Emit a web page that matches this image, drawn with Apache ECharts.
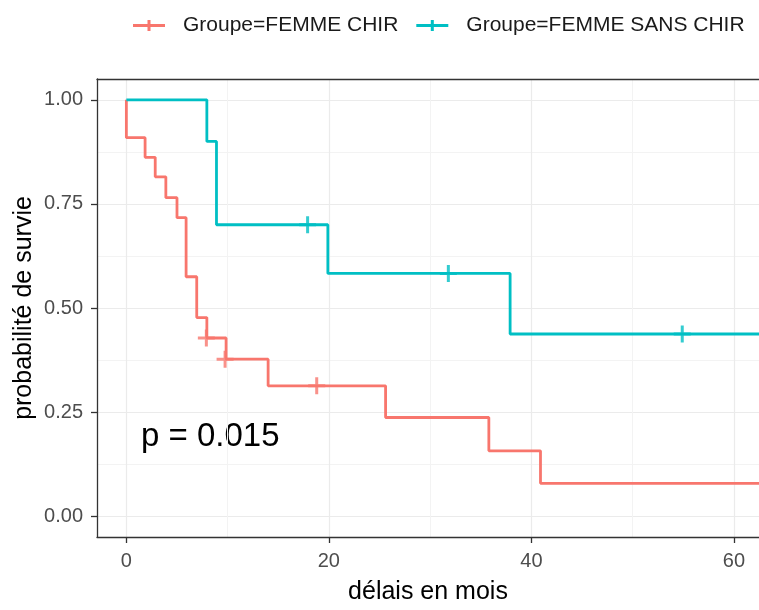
<!DOCTYPE html>
<html>
<head>
    <meta charset="utf-8">
    <title>Survie FEMME CHIR / SANS CHIR</title>
    <script src="https://cdn.jsdelivr.net/npm/echarts@6/dist/echarts.min.js"></script>
    <style>
        * {
            margin: 0;
            padding: 0
        }

        html, body {
            width: 100%;
            height: 100%;
            background: #fff;
        }

        #main {
            width: 759px;
            height: 610px;
        }
    </style>
</head>
<body>
<div id="main"></div>

<script type="text/javascript">
    /*--------------------données------------------------------------------------*/
    var groupNames = ['Groupe=FEMME CHIR', 'Groupe=FEMME SANS CHIR'];

    // FEMME CHIR : temps des paliers et survie
    var chirTimes = [0, 0, 1.85, 2.85, 3.9, 5.0, 5.9, 6.95, 7.95, 9.85, 14.0, 25.6, 35.8, 40.9, 64];
    var chirSurv = [1, 0.909, 0.862, 0.815, 0.765, 0.717, 0.575, 0.477, 0.428, 0.377, 0.313, 0.237, 0.157, 0.079, 0.079];
    var chirCensorTimes = [7.9, 9.75, 18.8];
    var chirCensorSurv = [0.428, 0.377, 0.313];

    // FEMME SANS CHIR
    var sansTimes = [0, 7.95, 8.9, 19.9, 37.9, 64];
    var sansSurv = [1, 0.9, 0.7, 0.583, 0.4375, 0.4375];
    var sansCensorTimes = [17.9, 31.8, 54.9];
    var sansCensorSurv = [0.7, 0.583, 0.4375];

    var xTicks = [0, 20, 40, 60];
    var xMinor = [10, 30, 50];
    var yTicks = [0, 0.25, 0.5, 0.75, 1];
    var yMinor = [0.125, 0.375, 0.625, 0.875];

    var pValueText = 'p = 0.015';

    var colors = ['#F8766D', '#00BFC4'];
    var font = '"Liberation Sans", Arial, sans-serif';

    function pairs(xs, ys) {
        return xs.map(function (x, i) {
            return [x, ys[i]];
        });
    }

    var plusSymbol = 'path://M7,0h3v17h-3z M0,7h17v3h-17z';
    var legendIcon = 'path://M0,4h32v3h-32z M14.5,0h3v11h-3z';

    var chart = echarts.init(document.getElementById('main'));
    chart.setOption({
        animation: false,
        textStyle: {fontFamily: font},
        legend: {
            left: 128,
            top: 10,
            itemWidth: 32,
            itemHeight: 11,
            itemGap: 18,
            textStyle: {fontSize: 21, color: '#1a1a1a', padding: [0, 0, 0, 13]},
            data: [
                {name: groupNames[0], icon: legendIcon},
                {name: groupNames[1], icon: legendIcon}
            ]
        },
        grid: {
            left: 97,
            top: 79,
            right: 0,
            bottom: 73
        },
        graphic: [{
            type: 'text',
            left: 141,
            top: 420,
            style: {
                text: pValueText,
                fontSize: 33,
                fontFamily: font,
                fill: '#000'
            }
        }],
        xAxis: [
            {
                type: 'value',
                min: -2.9,
                max: 62.48,
                position: 'bottom',
                name: 'délais en mois',
                nameLocation: 'middle',
                nameGap: 43,
                nameMoveOverlap: false,
                nameTextStyle: {fontSize: 25, color: '#000'},
                axisLine: {show: true, onZero: false, lineStyle: {color: '#333', width: 1.3}},
                axisTick: {show: true, customValues: xTicks, length: 6, lineStyle: {color: '#333', width: 1.3}},
                axisLabel: {customValues: xTicks, color: '#4d4d4d', fontSize: 20, margin: 14},
                splitLine: {show: true, lineStyle: {color: '#ebebeb', width: 1.2}}
            },
            {
                type: 'value',
                min: -2.9,
                max: 62.48,
                position: 'top',
                axisLine: {show: true, onZero: false, lineStyle: {color: '#333', width: 1.3}},
                axisTick: {show: false, customValues: xMinor},
                axisLabel: {show: false},
                splitLine: {show: true, lineStyle: {color: '#f3f3f3', width: 1}}
            }
        ],
        yAxis: [
            {
                type: 'value',
                min: -0.05,
                max: 1.05,
                name: 'probabilité de survie',
                nameLocation: 'middle',
                nameGap: 60,
                nameMoveOverlap: false,
                nameTextStyle: {fontSize: 25, color: '#000'},
                axisLine: {show: true, onZero: false, lineStyle: {color: '#333', width: 1.3}},
                axisTick: {show: true, customValues: yTicks, length: 6, lineStyle: {color: '#333', width: 1.3}},
                axisLabel: {
                    customValues: yTicks, color: '#4d4d4d', fontSize: 20, margin: 14,
                    formatter: function (v) {
                        return v.toFixed(2);
                    }
                },
                splitLine: {show: true, lineStyle: {color: '#ebebeb', width: 1.2}}
            },
            {
                type: 'value',
                min: -0.05,
                max: 1.05,
                axisLine: {show: false},
                axisTick: {show: false, customValues: yMinor},
                axisLabel: {show: false},
                splitLine: {show: true, lineStyle: {color: '#f3f3f3', width: 1}}
            }
        ],
        series: [
            {
                name: groupNames[0],
                type: 'line',
                step: 'end',
                showSymbol: false,
                color: colors[0],
                lineStyle: {width: 2.8},
                data: pairs(chirTimes, chirSurv)
            },
            {
                name: groupNames[1],
                type: 'line',
                step: 'end',
                showSymbol: false,
                color: colors[1],
                lineStyle: {width: 2.8},
                data: pairs(sansTimes, sansSurv)
            },
            {
                name: groupNames[0],
                type: 'scatter',
                symbol: plusSymbol,
                symbolSize: 17,
                color: colors[0],
                data: pairs(chirCensorTimes, chirCensorSurv)
            },
            {
                name: groupNames[1],
                type: 'scatter',
                symbol: plusSymbol,
                symbolSize: 17,
                color: colors[1],
                data: pairs(sansCensorTimes, sansCensorSurv)
            }
        ]
    });
</script>
</body>
</html>
